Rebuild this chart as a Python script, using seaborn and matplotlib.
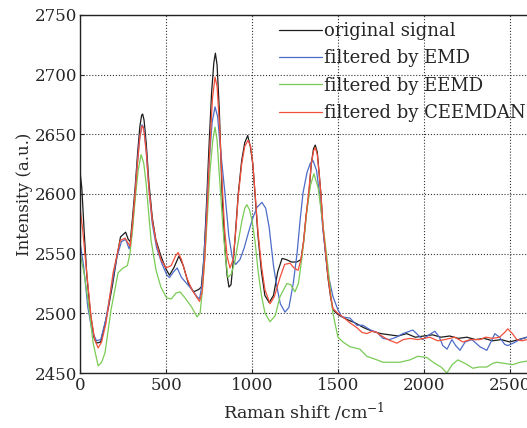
import matplotlib
matplotlib.use("Agg")
import matplotlib.pyplot as plt
import pandas as pd
import seaborn as sns

# values (Raman shift in cm^-1, intensity in a.u.)
orig_x = [0, 10, 25, 40, 60, 80, 95, 120, 140, 165, 190, 215, 235, 250, 265, 280, 292,
          305, 320, 335, 348, 358, 364, 372, 385, 400, 420, 440, 470, 500, 520, 545, 575,
          600, 630, 660, 690, 705, 720, 735, 750, 765, 778, 787, 797, 810, 826, 840, 855,
          866, 878, 892, 905, 920, 940, 958, 975, 990, 1005, 1020, 1035, 1055, 1075, 1100,
          1125, 1150, 1175, 1200, 1230, 1260, 1285, 1300, 1315, 1331, 1345, 1358, 1368,
          1380, 1392, 1401, 1413, 1428, 1442, 1457, 1471, 1500, 1550, 1600, 1650, 1700,
          1750, 1800, 1850, 1900, 1950, 2000, 2050, 2100, 2150, 2200, 2250, 2300, 2350,
          2400, 2450, 2500, 2550, 2600]
orig_y = [2618, 2605, 2565, 2530, 2500, 2480, 2475, 2476, 2488, 2505, 2525, 2548, 2564,
          2566, 2568, 2562, 2560, 2580, 2605, 2635, 2657, 2666, 2667, 2662, 2642, 2610,
          2580, 2562, 2548, 2537, 2532, 2538, 2548, 2540, 2525, 2518, 2520, 2522, 2545,
          2590, 2640, 2685, 2710, 2718, 2708, 2670, 2600, 2560, 2532, 2522, 2524, 2545,
          2570, 2600, 2628, 2643, 2649, 2640, 2625, 2595, 2565, 2535, 2515, 2509, 2515,
          2535, 2546, 2545, 2543, 2543, 2545, 2560, 2582, 2600, 2625, 2638, 2641, 2635,
          2615, 2600, 2572, 2550, 2530, 2514, 2503, 2499, 2495, 2492, 2488, 2485, 2483,
          2482, 2481, 2483, 2480, 2481, 2482, 2480, 2481, 2479, 2480, 2478, 2479, 2477,
          2478, 2476, 2478, 2480]

emd_x = [0, 20, 45, 70, 95, 120, 150, 180, 210, 240, 265, 285, 300, 315, 330, 345, 360,
         372, 385, 400, 420, 445, 475, 505, 520, 545, 565, 590, 620, 650, 680, 695, 710,
         730, 750, 768, 785, 800, 815, 843, 865, 885, 905, 930, 955, 980, 1005, 1030,
         1058, 1080, 1100, 1125, 1145, 1165, 1192, 1215, 1240, 1262, 1280, 1297, 1320,
         1340, 1355, 1375, 1395, 1413, 1440, 1471, 1500, 1523, 1570, 1610, 1645, 1690,
         1727, 1762, 1800, 1840, 1878, 1936, 1994, 2030, 2064, 2090, 2110, 2135, 2163,
         2185, 2210, 2240, 2280, 2326, 2366, 2390, 2413, 2440, 2470, 2488, 2520, 2558, 2600]
emd_y = [2559, 2540, 2505, 2485, 2477, 2478, 2495, 2520, 2545, 2560, 2562, 2554, 2565,
         2590, 2620, 2645, 2658, 2655, 2635, 2605, 2575, 2555, 2542, 2532, 2530, 2535,
         2538, 2530, 2525, 2520, 2514, 2512, 2525, 2570, 2625, 2660, 2673, 2665, 2640,
         2600, 2565, 2547, 2541, 2545, 2555, 2568, 2580, 2589, 2593, 2588, 2572, 2540,
         2522, 2508, 2501, 2505, 2525, 2550, 2578, 2601, 2618, 2626, 2628, 2620, 2598,
         2570, 2535, 2514, 2503, 2497, 2496, 2490, 2490, 2486, 2484, 2479, 2478, 2480,
         2483, 2486, 2478, 2482, 2485, 2480, 2473, 2470, 2478, 2473, 2469, 2476, 2478,
         2472, 2469, 2476, 2483, 2480, 2474, 2473, 2475, 2478, 2480]

eemd_x = [0, 25, 46, 76, 105, 125, 145, 180, 221, 250, 275, 290, 305, 320, 338, 355, 370,
          384, 400, 413, 442, 470, 503, 530, 558, 581, 610, 650, 680, 698, 712, 727, 742,
          756, 772, 785, 797, 808, 820, 831, 845, 860, 880, 901, 920, 942, 958, 970, 985,
          1000, 1018, 1035, 1055, 1076, 1105, 1135, 1163, 1203, 1225, 1250, 1270, 1291,
          1305, 1320, 1340, 1360, 1385, 1407, 1425, 1442, 1457, 1471, 1500, 1529, 1570,
          1628, 1668, 1727, 1762, 1800, 1860, 1919, 1965, 2017, 2064, 2100, 2134, 2165,
          2198, 2240, 2285, 2320, 2366, 2400, 2424, 2470, 2517, 2560, 2600]
eemd_y = [2550, 2532, 2511, 2475, 2456, 2459, 2467, 2503, 2534, 2538, 2540, 2550, 2570,
          2595, 2620, 2633, 2626, 2609, 2582, 2561, 2536, 2522, 2513, 2512, 2517, 2518,
          2513, 2505, 2497, 2500, 2520, 2550, 2585, 2620, 2645, 2656, 2645, 2620, 2595,
          2572, 2548, 2530, 2533, 2544, 2560, 2578, 2588, 2591, 2587, 2578, 2560, 2536,
          2515, 2500, 2493, 2498, 2514, 2525, 2524, 2518, 2525, 2547, 2565, 2587, 2607,
          2617, 2605, 2581, 2560, 2539, 2518, 2500, 2480, 2476, 2472, 2470, 2464, 2461,
          2459, 2459, 2459, 2461, 2464, 2463, 2458, 2455, 2450, 2457, 2461, 2458, 2454,
          2455, 2455, 2458, 2459, 2458, 2457, 2459, 2460]

ceemdan_x = [0, 15, 35, 64, 85, 105, 125, 151, 192, 233, 262, 291, 305, 320, 335, 348,
             358, 364, 372, 385, 400, 420, 442, 470, 500, 530, 555, 570, 590, 620, 650,
             680, 695, 710, 725, 740, 755, 770, 785, 797, 812, 826, 840, 855, 872, 890,
             905, 920, 940, 958, 977, 992, 1005, 1020, 1035, 1055, 1075, 1105, 1130, 1163,
             1190, 1221, 1245, 1268, 1285, 1300, 1315, 1331, 1345, 1358, 1368, 1380, 1392,
             1401, 1413, 1428, 1442, 1457, 1471, 1500, 1529, 1570, 1610, 1640, 1668, 1700,
             1727, 1744, 1790, 1843, 1880, 1919, 1965, 2000, 2035, 2080, 2122, 2150, 2180,
             2227, 2270, 2326, 2360, 2401, 2440, 2470, 2488, 2515, 2541, 2570, 2600]
ceemdan_y = [2588, 2570, 2539, 2497, 2478, 2471, 2476, 2492, 2534, 2561, 2563, 2556, 2575,
             2600, 2628, 2648, 2656, 2657, 2652, 2635, 2605, 2578, 2560, 2545, 2538, 2540,
             2548, 2551, 2545, 2530, 2520, 2513, 2510, 2518, 2545, 2590, 2640, 2680, 2698,
             2690, 2655, 2610, 2572, 2548, 2538, 2545, 2568, 2598, 2625, 2640, 2645, 2640,
             2625, 2597, 2568, 2540, 2520, 2508, 2514, 2530, 2541, 2542, 2538, 2536, 2545,
             2560, 2582, 2603, 2625, 2636, 2639, 2633, 2615, 2600, 2573, 2552, 2531, 2515,
             2504, 2500, 2497, 2492, 2488, 2484, 2483, 2485, 2484, 2482, 2478, 2475, 2478,
             2479, 2478, 2479, 2480, 2477, 2478, 2479, 2480, 2476, 2478, 2478, 2480, 2479,
             2480, 2484, 2487, 2483, 2478, 2477, 2478]

labels = ["original signal", "filtered by EMD", "filtered by EEMD", "filtered by CEEMDAN"]
colors = ["#1c1c1c", "#4d6cc8", "#7acb55", "#f2503b"]

sns.set_style("ticks")
plt.rcParams["font.family"] = ["DejaVu Serif"]
plt.rcParams["mathtext.fontset"] = "dejavuserif"

fig = plt.figure(figsize=(5.27, 4.28), dpi=100)
ax = fig.add_axes([0.152, 0.1285, 0.848, 0.8365])

series = [(orig_x, orig_y), (emd_x, emd_y), (eemd_x, eemd_y), (ceemdan_x, ceemdan_y)]
for (xs, ys), lab, col in zip(series, labels, colors):
    df = pd.DataFrame({"x": xs, "y": ys})
    sns.lineplot(data=df, x="x", y="y", ax=ax, color=col, lw=0.9,
                 label=lab, sort=False, estimator=None)

ax.set_xlim(0, 2600)
ax.set_ylim(2450, 2750)
ax.set_xticks([0, 500, 1000, 1500, 2000, 2500])
ax.set_yticks([2450, 2500, 2550, 2600, 2650, 2700, 2750])
ax.grid(True, linestyle=":", color="#333333", lw=0.8)
ax.tick_params(direction="in", length=3, labelsize=12, pad=3)
ax.tick_params(axis="y", pad=2)
ax.spines["right"].set_visible(False)
for s in ["left", "bottom", "top"]:
    ax.spines[s].set_color("#222222")
    ax.spines[s].set_linewidth(1.0)

ax.set_xlabel("Raman shift /cm$^{-1}$", fontsize=12.5, labelpad=5)
ax.set_ylabel("Intensity (a.u.)", fontsize=12, labelpad=1)

ax.legend(loc="upper right", bbox_to_anchor=(1.013, 1.0), frameon=False,
          fontsize=13, handlelength=2.4, handletextpad=0.12,
          labelspacing=0.52, borderaxespad=0.0, borderpad=0.38)

fig.savefig("out.png", dpi=100)
